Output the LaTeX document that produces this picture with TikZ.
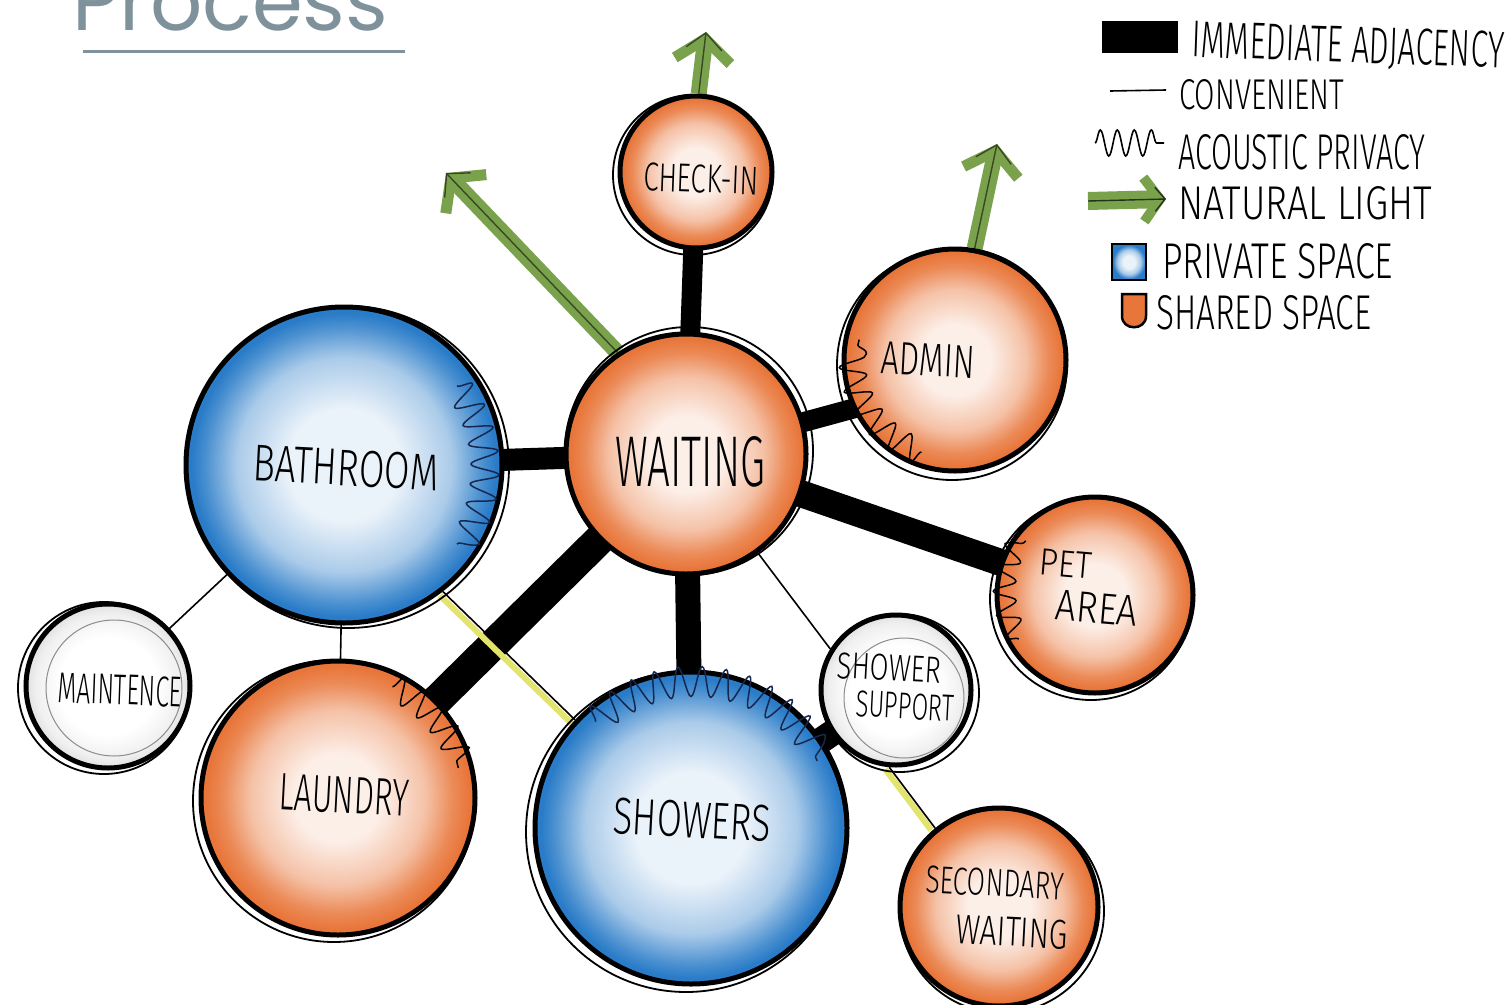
\documentclass[tikz,border=0pt]{standalone}
\usepackage{fontspec}
\usepackage{graphicx}
\usetikzlibrary{calc,decorations.pathmorphing,arrows.meta}
\newfontfamily\hand{Fira Sans Light}
\newfontfamily\titlefont{Poppins}
\definecolor{orng}{RGB}{232,118,58}
\definecolor{blu}{RGB}{42,124,200}
\definecolor{grn}{RGB}{122,162,76}
\definecolor{ttl}{RGB}{127,146,155}
\definecolor{navy}{RGB}{22,40,80}
\definecolor{hilite}{RGB}{226,228,110}
\colorlet{orA}{orng!12!white}
\colorlet{orB}{orng!45!white}
\colorlet{orC}{orng!85!white}
\colorlet{blA}{blu!10!white}
\colorlet{blB}{blu!40!white}
\colorlet{blC}{blu!85!white}
\colorlet{grA}{white}
\colorlet{grB}{black!6}
\colorlet{grC}{black!12}
\pgfdeclareradialshading{shOr}{\pgfpointorigin}{color(0bp)=(orA); color(8bp)=(orA); color(16bp)=(orB); color(21bp)=(orC); color(24bp)=(orng); color(50bp)=(orng)}
\pgfdeclareradialshading{shBl}{\pgfpointorigin}{color(0bp)=(blA); color(9bp)=(blA); color(17bp)=(blB); color(22bp)=(blC); color(24bp)=(blu); color(50bp)=(blu)}
\pgfdeclareradialshading{shGr}{\pgfpointorigin}{color(0bp)=(grA); color(15bp)=(grA); color(22bp)=(grB); color(25bp)=(grC); color(50bp)=(grC)}
\pgfdeclarelayer{bg}
\pgfsetlayers{bg,main}
\newcommand{\hw}[3]{\resizebox{#1pt}{#2pt}{\hand #3}}
\begin{document}
\begin{tikzpicture}[x=1pt,y=-1pt,
  room/.style={circle, draw=black, line width=5pt, inner sep=0pt, minimum size=#1, shade},
  orroom/.style={room=#1, shading=shOr},
  blroom/.style={room=#1, shading=shBl},
  grroom/.style={room=#1, shading=shGr},
  conv/.style={line width=1.6pt, black},
  hl/.style={line width=6pt, hilite},
  sk/.style={line width=1.8pt, black},
  wav/.style={decorate, decoration={snake, amplitude=#1, segment length=22pt}, line width=1.5pt},
  sunarrow/.style={grn, line width=16pt, -{Straight Barb[length=22pt, width=56pt, line width=11pt]}},
  sunline/.style={black!55!grn, line width=1.4pt, -{Straight Barb[length=16pt, width=36pt]}},
  lbl/.style={inner sep=0pt},
  lg/.style={inner sep=0pt, anchor=west}]
\useasboundingbox (0,0) rectangle (1510,1004);

% title
\node[anchor=base west, inner sep=0pt, text=ttl] (title) at (72,30) {\resizebox{316pt}{!}{\titlefont Process}};
\coordinate (u1) at (83,51);
\coordinate (u2) at (405,51);
\draw[ttl, line width=3pt] (u1) -- (u2);

% rooms
\node[orroom=152pt] (check) at (696,172) {};
\node[orroom=240pt] (wait) at (686,454) {};
\node[orroom=222pt] (admin) at (955,360) {};
\node[blroom=316pt] (bath) at (344,465) {};
\node[orroom=196pt] (pet) at (1095,595) {};
\node[grroom=164pt] (maint) at (108,686) {};
\node[orroom=274pt] (laun) at (338,798) {};
\node[blroom=312pt] (show) at (691,828) {};
\node[grroom=150pt] (sup) at (896,690) {};
\node[orroom=198pt] (sec) at (999,907) {};

% sketchy second outlines
\draw[sk] ($(check)+(-3,3)$) circle[radius=80pt];
\draw[sk] ($(wait)+(3,-3)$) circle[radius=124pt];
\draw[sk] ($(admin)+(-3,5)$) circle[radius=115pt];
\draw[sk] ($(bath)+(4,2)$) circle[radius=161pt];
\draw[sk] ($(pet)+(-4,4)$) circle[radius=101pt];
\draw[sk] ($(maint)+(-4,2)$) circle[radius=86pt];
\draw[sk] ($(laun)+(-4,3)$) circle[radius=141pt];
\draw[sk] ($(show)+(-5,4)$) circle[radius=160pt];
\draw[sk] ($(sup)+(4,3)$) circle[radius=79pt];
\draw[sk] ($(sec)+(3,4)$) circle[radius=102pt];
\draw[black!45, line width=1pt] ($(maint)+(6,2)$) circle[radius=68pt];
\draw[black!45, line width=1pt] ($(sup)+(8,8)$) circle[radius=60pt];

% connectors (behind rooms)
\begin{pgfonlayer}{bg}
  \draw[black, line width=20pt] (check.center) -- (wait.center);
  \draw[black, line width=22pt] (bath.center) -- (wait.center);
  \draw[black, line width=20pt] ($(admin.center)+(-15,25)$) -- (wait.center);
  \draw[black, line width=27pt] (pet.center) -- (wait.center);
  \draw[black, line width=31pt] (laun.center) -- (wait.center);
  \draw[black, line width=25pt] (show.center) -- (wait.center);
  \draw[black, line width=26pt] (sup.center) -- (show.center);
  \draw[conv] (bath.center) -- (maint.center);
  \draw[conv] (bath.center) -- (laun.center);
  \draw[hl] ($(bath.-52)+(-3,4)$) -- ($(show.137)+(-3,4)$);
  \draw[conv] (bath.-52) -- (show.137);
  \draw[conv] (wait.-54) -- (sup.148);
  \draw[hl] ($(sup.-95)+(-4,2)$) -- ($(sec.129)+(-4,2)$);
  \draw[conv] (sup.-95) -- (sec.129);
  % natural light
  \coordinate (a1) at (446,173);
  \coordinate (a2) at (706,32);
  \coordinate (a3) at (997,144);
  \draw[sunarrow] (wait.124) -- (a1);
  \draw[sunline] (wait.124) -- (a1);
  \draw[sunarrow] (check.88) -- (a2);
  \draw[sunline] (check.88) -- (a2);
  \draw[sunarrow] (admin.80) -- (a3);
  \draw[sunline] (admin.80) -- (a3);
\end{pgfonlayer}

% acoustic privacy
\draw[wav=14pt, navy] ($(bath)+(-35:138)$) arc[start angle=-35, end angle=35, radius=138];
\draw[wav=13pt, black] ($(admin)+(110:98)$) arc[start angle=110, end angle=192, radius=98];
\draw[wav=15pt, navy] ($(show)+(-132:143)$) arc[start angle=-132, end angle=-28, radius=143];
\draw[wav=13pt, black] ($(laun)+(-64:124)$) arc[start angle=-64, end angle=-14, radius=124];
\draw[wav=11pt, black] ($(pet)+(150:88)$) arc[start angle=150, end angle=218, radius=88];

% labels
\node[lbl, rotate=-3] (tbath) at (346,468) {\hw{186}{36}{BATHROOM}};
\node[lbl] (twait) at (690,462) {\hw{150}{50}{WAITING}};
\node[lbl, rotate=-2] (tcheck) at (701,179) {\hw{115}{28}{CHECK-IN}};
\node[lbl, rotate=-3] (tadmin) at (928,360) {\hw{94}{32}{ADMIN}};
\node[lbl, rotate=-5] (tpet1) at (1066,564) {\hw{52}{26}{PET}};
\node[lbl, rotate=-5] (tpet2) at (1097,608) {\hw{82}{30}{AREA}};
\node[lbl, rotate=-2] (tmaint) at (120,690) {\hw{124}{30}{MAINTENCE}};
\node[lbl, rotate=-3] (tlaun) at (344,795) {\hw{130}{36}{LAUNDRY}};
\node[lbl, rotate=-3] (tshow) at (692,820) {\hw{158}{36}{SHOWERS}};
\node[lbl, rotate=-3] (tsup1) at (889,668) {\hw{104}{26}{SHOWER}};
\node[lbl, rotate=-3] (tsup2) at (905,706) {\hw{98}{26}{SUPPORT}};
\node[lbl, rotate=-3] (tsec1) at (995,883) {\hw{138}{27}{SECONDARY}};
\node[lbl, rotate=-3] (tsec2) at (1012,932) {\hw{112}{29}{WAITING}};

% legend
\node[fill=black, minimum width=76pt, minimum height=32pt, inner sep=0pt] (lgadj) at (1140,37) {};
\node[lg, rotate=-2] (tlgadj) at (1192,42) {\hw{312}{36}{IMMEDIATE ADJACENCY}};
\coordinate (lc1) at (1110,91);
\coordinate (lc2) at (1166,90);
\draw[conv] (lc1) -- (lc2);
\node[lg] (tlgconv) at (1179,95) {\hw{165}{30}{CONVENIENT}};
\coordinate (lw1) at (1095,143);
\coordinate (lw2) at (1164,143);
\draw[line width=1.6pt, decorate, decoration={snake, amplitude=13pt, segment length=17pt}] (lw1) -- (lw2);
\node[lg] (tlgac) at (1178,152) {\hw{247}{35}{ACOUSTIC PRIVACY}};
\coordinate (la1) at (1088,201);
\coordinate (la2) at (1166,199);
\draw[grn, line width=18pt, -{Straight Barb[length=16pt, width=44pt, line width=10pt]}] (la1) -- (la2);
\draw[black!70!grn, line width=1.4pt, -{Straight Barb[length=10pt, width=24pt]}] (la1) -- (la2);
\node[lg] (tlgnl) at (1178,203) {\hw{254}{33}{NATURAL LIGHT}};
\node[draw=black, line width=2.5pt, shade, shading=shBl, minimum width=34pt, minimum height=36pt, inner sep=0pt] (lgpriv) at (1129,262) {};
\node[lg] (tlgpriv) at (1162,261) {\hw{231}{35}{PRIVATE SPACE}};
\draw[line width=2.5pt, fill=orng] (1122,294) -- (1146,294) -- (1146,316) .. controls (1146,331) and (1122,331) .. (1122,316) -- cycle;
\node[lg] (tlgsh) at (1156,313) {\hw{215}{34}{SHARED SPACE}};
\end{tikzpicture}
\end{document}
